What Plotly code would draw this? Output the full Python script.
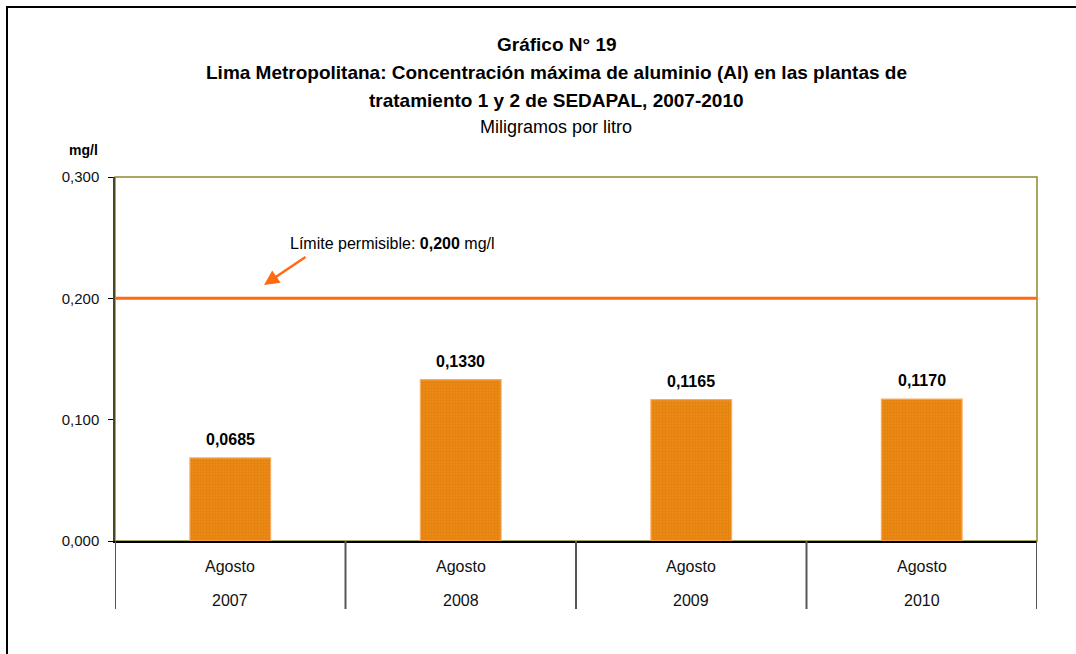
import plotly.graph_objects as go

years = ["2007", "2008", "2009", "2010"]
months = ["Agosto", "Agosto", "Agosto", "Agosto"]
values = [0.0685, 0.1330, 0.1165, 0.1170]
limit_value = 0.200
y_ticks = [0.0, 0.1, 0.2, 0.3]

FONT = "Liberation Sans, Arial, sans-serif"

# plot area pixels: x 115..1037, y 177..541
L, R, T, B = 115, 1037, 177, 541
W, H = R - L, B - T
def px(x):
    return (x - L) / W
def py(y):
    return (B - y) / H

fig = go.Figure()
fig.add_trace(go.Bar(
    x=years,
    y=values,
    width=0.35,
    marker=dict(
        color="#EA8812",
        line=dict(color="#F6AD62", width=1.2),
        pattern=dict(shape=".", fgcolor="#D6760A", bgcolor="#EA8913", size=3, solidity=0.35),
    ),
    hoverinfo="skip",
))

shapes = [
    # plot area border
    dict(type="rect", xref="paper", yref="paper", x0=0, x1=1, y0=0, y1=1,
         line=dict(color="#8C8A2E", width=1.5), layer="below"),
    # limit line
    dict(type="line", xref="paper", yref="y", x0=0, x1=1, y0=limit_value, y1=limit_value,
         line=dict(color="#FF6A13", width=3)),
    # outer frame
    dict(type="rect", xref="paper", yref="paper", x0=px(7), x1=px(1090), y0=py(670), y1=py(7),
         line=dict(color="#000000", width=2)),
]
# category dividers at group boundaries
for i in range(len(years) + 1):
    shapes.append(dict(type="line", xref="x", yref="paper", x0=i - 0.5, x1=i - 0.5,
                       y0=0, y1=py(609), line=dict(color="#555555", width=2)))

annotations = [
    dict(text="<b>Gráfico N° 19</b>", x=px(557), y=py(45)),
    dict(text="<b>Lima Metropolitana: Concentración máxima de aluminio (Al) en las plantas de</b>", x=px(556), y=py(73)),
    dict(text="<b>tratamiento 1 y 2 de SEDAPAL, 2007-2010</b>", x=px(556), y=py(100)),
    dict(text="Miligramos por litro", x=px(556), y=py(127), font=dict(family=FONT, size=18, color="#000000")),
    dict(text="<b>mg/l</b>", x=px(83), y=py(150), font=dict(family=FONT, size=14, color="#000000")),
    dict(text="Límite permisible: <b>0,200</b> mg/l", x=px(392), y=py(243), font=dict(family=FONT, size=16, color="#000000")),
]
for a in annotations:
    a.update(xref="paper", yref="paper", showarrow=False, xanchor="center", yanchor="middle")
    if "font" not in a:
        a["font"] = dict(family=FONT, size=19, color="#000000")

# arrow
annotations.append(dict(
    xref="paper", yref="paper", x=px(264), y=py(285), ax=43, ay=-29,
    text="", showarrow=True, arrowhead=2, arrowsize=1.2, arrowwidth=2.5, arrowcolor="#FF6A13",
))

# value labels and category labels (x = category index on the category axis)
for i, (yr, mo, v) in enumerate(zip(years, months, values)):
    annotations.append(dict(
        xref="x", yref="y", x=i, y=v, text="<b>" + f"{v:.4f}".replace(".", ",") + "</b>",
        showarrow=False, xanchor="center", yanchor="bottom", yshift=8,
        font=dict(family=FONT, size=16, color="#000000"),
    ))
    annotations.append(dict(
        xref="x", yref="paper", x=i, y=py(566), text=mo, showarrow=False,
        xanchor="center", yanchor="middle",
        font=dict(family=FONT, size=16, color="#111111"),
    ))
    annotations.append(dict(
        xref="x", yref="paper", x=i, y=py(600), text=yr, showarrow=False,
        xanchor="center", yanchor="middle",
        font=dict(family=FONT, size=16, color="#111111"),
    ))

fig.update_layout(
    width=1076, height=654,
    margin=dict(l=L, r=1076 - R, t=T, b=654 - B),
    paper_bgcolor="white", plot_bgcolor="white",
    separators=",.",
    showlegend=False,
    font=dict(family=FONT, size=15, color="#000000"),
    shapes=shapes,
    annotations=annotations,
)
fig.update_xaxes(
    type="category", categoryorder="array", categoryarray=years, range=[-0.5, len(years) - 0.5],
    showline=True, linecolor="#000000", linewidth=1.5,
    showgrid=False, ticks="", showticklabels=False,
)
fig.update_yaxes(
    range=[0, 0.3], tickvals=y_ticks, tickformat=".3f",
    showline=True, linecolor="#4A4820", linewidth=1.5,
    showgrid=False, zeroline=False,
    ticks="outside", ticklen=5, tickcolor="#000000",
    tickfont=dict(family=FONT, size=15, color="#111111"),
    ticklabelstandoff=6,
)
fig.write_html("out.html", config={"displayModeBar": False},
               post_script="document.body.style.margin='0';")
